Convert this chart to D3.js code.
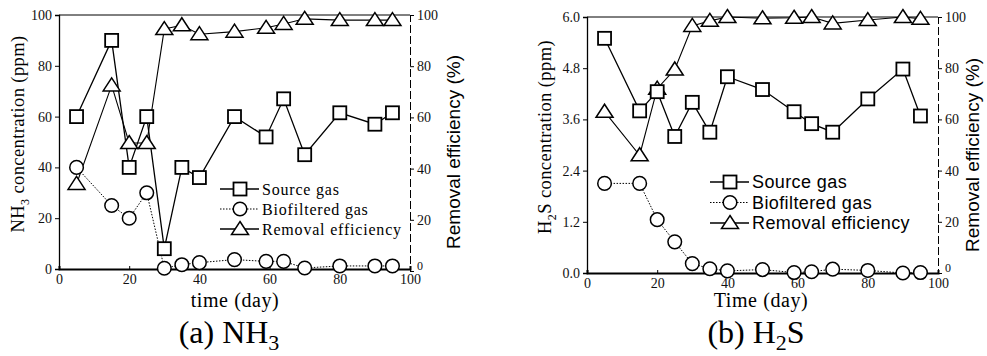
<!DOCTYPE html>
<html>
<head>
<meta charset="utf-8">
<script src="https://cdn.jsdelivr.net/npm/d3@7"></script>
<style>
  body { margin: 0; background: #fff; }
  svg { display: block; }
</style>
</head>
<body>
<svg id="chart" width="987" height="356"></svg>
<script>
// sampling days (same for both gases)
const days = [5, 15, 20, 25, 30, 35, 40, 50, 59, 64, 70, 80, 90, 95];

// (a) NH3
const nh3Source = [60, 90, 40, 60, 8, 40, 36, 60, 52, 67, 45, 61.5, 57, 61.5];
const nh3Bio = [40, 25, 20, 30, 0.3, 1.7, 2.5, 3.7, 3, 3, 0.4, 1.2, 1.2, 1.2];
const nh3Removal = [34, 72.5, 50, 50, 94.5, 96, 92.5, 93.5, 95, 96.5, 98.5, 98, 98, 98];

// (b) H2S
const h2sSource = [5.5, 3.8, 4.25, 3.2, 4.0, 3.3, 4.6, 4.3, 3.78, 3.5, 3.3, 4.08, 4.78, 3.68];
const h2sBio = [2.1, 2.1, 1.25, 0.73, 0.22, 0.1, 0.05, 0.08, 0.01, 0.03, 0.09, 0.06, 0, 0.01];
const h2sRemoval = [63, 46, 72, 79.5, 96.5, 98.5, 100, 99.5, 99.7, 100, 97.5, 98.8, 100, 99.3];

// tick labels
const dayTicks = [0, 20, 40, 60, 80, 100];
const nh3Ticks = [0, 20, 40, 60, 80, 100];
const h2sTicks = [0, 1.2, 2.4, 3.6, 4.8, 6.0];
const removalTicks = [0, 20, 40, 60, 80, 100];

const legendNames = ["Source gas", "Biofiltered gas", "Removal efficiency"];

const serif = "'Liberation Serif', 'DejaVu Serif', serif";
const sans = "'Liberation Sans', Arial, sans-serif";

const svg = d3.select("#chart");

function marker(g, kind, x, y) {
  if (kind == "square") {
    g.append("rect")
      .attr("x", x - 6.5).attr("y", y - 6.5)
      .attr("width", 13).attr("height", 13)
      .attr("fill", "#fff").attr("stroke", "#000").attr("stroke-width", 1.8);
  } else if (kind == "circle") {
    g.append("circle")
      .attr("cx", x).attr("cy", y).attr("r", 6.8)
      .attr("fill", "#fff").attr("stroke", "#000").attr("stroke-width", 1.5);
  } else {
    g.append("path")
      .attr("d", "M" + x + "," + (y - 7.5) + "L" + (x + 8.5) + "," + (y + 5.5) + "L" + (x - 8.5) + "," + (y + 5.5) + "Z")
      .attr("fill", "#fff").attr("stroke", "#000").attr("stroke-width", 1.5);
  }
}

function panel(p) {
  const g = svg.append("g");

  const x = d3.scaleLinear().domain([0, 100]).range([p.left, p.right]);
  const y = d3.scaleLinear().domain([0, p.yMax]).range([p.bottom, p.top]);
  const y2 = d3.scaleLinear().domain([0, 100]).range([p.bottom2, p.top]);

  // frame top
  g.append("line")
    .attr("x1", p.left).attr("x2", p.right)
    .attr("y1", p.top).attr("y2", p.top)
    .attr("stroke", "#000").attr("stroke-width", 1);

  // axes
  const xAxis = g.append("g")
    .attr("transform", "translate(0," + p.bottom + ")")
    .call(d3.axisBottom(x).tickValues(dayTicks).tickSize(-3).tickPadding(5));
  const yAxis = g.append("g")
    .attr("transform", "translate(" + p.left + ",0)")
    .call(d3.axisLeft(y).tickValues(p.yTicks).tickSize(4).tickPadding(3)
      .tickFormat(p.yFormat));
  const y2Axis = g.append("g")
    .attr("transform", "translate(" + p.right + ",0)")
    .call(d3.axisRight(y2).tickValues(removalTicks).tickSize(4).tickPadding(3));

  [xAxis, yAxis, y2Axis].forEach(a => {
    a.selectAll(".domain").attr("stroke", "#000").attr("stroke-width", 1.3);
    a.selectAll("line").attr("stroke", "#000");
    a.selectAll("text")
      .style("font-family", serif)
      .style("font-size", "14px")
      .attr("fill", "#111");
  });
  xAxis.select(".domain").attr("stroke-width", 2);
  y2Axis.select(".domain").attr("stroke-dasharray", "8,3").attr("stroke-width", 1);
  // zero label of the right axis sits just above the "100" day label
  y2Axis.selectAll(".tick text").filter(d => d == 0)
    .attr("dy", "-0.15em").style("font-size", "12px");

  const line = d3.line().x((d, i) => x(days[i]));

  // series lines
  g.append("path")
    .attr("d", line.y(d => y2(d))(p.removal))
    .attr("fill", "none").attr("stroke", "#000").attr("stroke-width", 1.1);
  g.append("path")
    .attr("d", line.y(d => y(d))(p.source))
    .attr("fill", "none").attr("stroke", "#000").attr("stroke-width", 1.3);
  g.append("path")
    .attr("d", line.y(d => y(d))(p.bio))
    .attr("fill", "none").attr("stroke", "#000").attr("stroke-width", 1)
    .attr("stroke-dasharray", "1.5,1.5");

  // markers
  p.removal.forEach((d, i) => marker(g, "triangle", x(days[i]), y2(d)));
  p.source.forEach((d, i) => marker(g, "square", x(days[i]), y(d)));
  p.bio.forEach((d, i) => marker(g, "circle", x(days[i]), y(d)));

  // legend
  const kinds = ["square", "circle", "triangle"];
  legendNames.forEach((name, i) => {
    const ly = p.legY + i * p.legStep;
    g.append("line")
      .attr("x1", p.legX - 20).attr("x2", p.legX + 19)
      .attr("y1", ly).attr("y2", ly)
      .attr("stroke", "#000").attr("stroke-width", i == 1 ? 1 : 1.3)
      .attr("stroke-dasharray", i == 1 ? "1.5,1.5" : null);
    marker(g, kinds[i], p.legX, ly);
    g.append("text")
      .attr("x", p.legX + 22).attr("y", ly)
      .attr("dy", "0.35em")
      .style("font-family", p.legFont)
      .style("font-size", p.legSize)
      .style("letter-spacing", p.legSpacing)
      .text(name);
  });

  // titles
  const yt = g.append("text")
    .attr("transform", "translate(" + p.yTitleX + "," + ((p.top + p.bottom) / 2 - 8) + ") rotate(-90)")
    .attr("text-anchor", "middle")
    .style("font-family", serif)
    .style("font-size", "18.5px")
    .style("letter-spacing", "0.4px");
  yt.append("tspan").text(p.gas[0]);
  yt.append("tspan").attr("dy", 5).style("font-size", "12px").text(p.gas[1]);
  yt.append("tspan").attr("dy", -5).text(p.gas[2] + " concentration (ppm)");

  g.append("text")
    .attr("transform", "translate(" + p.y2TitleX + "," + ((p.top + p.bottom) / 2 + 10) + ") rotate(-90)")
    .attr("text-anchor", "middle")
    .style("font-family", sans)
    .style("font-size", "19px")
    .text("Removal efficiency (%)");

  g.append("text")
    .attr("x", p.xTitleX).attr("y", 307)
    .attr("text-anchor", "middle")
    .style("font-family", serif)
    .style("font-size", "20px")
    .style("letter-spacing", "0.6px")
    .text(p.xTitle);

  const cap = g.append("text")
    .attr("x", p.capX).attr("y", 343)
    .attr("text-anchor", "middle")
    .style("font-family", serif)
    .style("font-size", "32px");
  cap.append("tspan").text(p.caption[0]);
  cap.append("tspan").attr("dy", 7).style("font-size", "22px").text(p.caption[1]);
  cap.append("tspan").attr("dy", -7).text(p.caption[2]);
}

panel({
  left: 59, right: 410, top: 15, bottom: 269, bottom2: 271,
  yMax: 100, yTicks: nh3Ticks, yFormat: d3.format("d"),
  source: nh3Source, bio: nh3Bio, removal: nh3Removal,
  legX: 240, legY: 189, legStep: 20,
  legFont: serif, legSize: "16px", legSpacing: "0.8px",
  gas: ["NH", "3", ""], yTitleX: 24, y2TitleX: 460,
  xTitle: "time (day)", xTitleX: 235, caption: ["(a) NH", "3", ""], capX: 229
});

panel({
  left: 587, right: 938, top: 17, bottom: 273, bottom2: 273,
  yMax: 6, yTicks: h2sTicks, yFormat: d3.format(".1f"),
  source: h2sSource, bio: h2sBio, removal: h2sRemoval,
  legX: 730, legY: 182, legStep: 20.5,
  legFont: sans, legSize: "18px", legSpacing: "0.4px",
  gas: ["H", "2", "S"], yTitleX: 551, y2TitleX: 979,
  xTitle: "Time (day)", xTitleX: 761, caption: ["(b) H", "2", "S"], capX: 756
});
</script>
</body>
</html>
